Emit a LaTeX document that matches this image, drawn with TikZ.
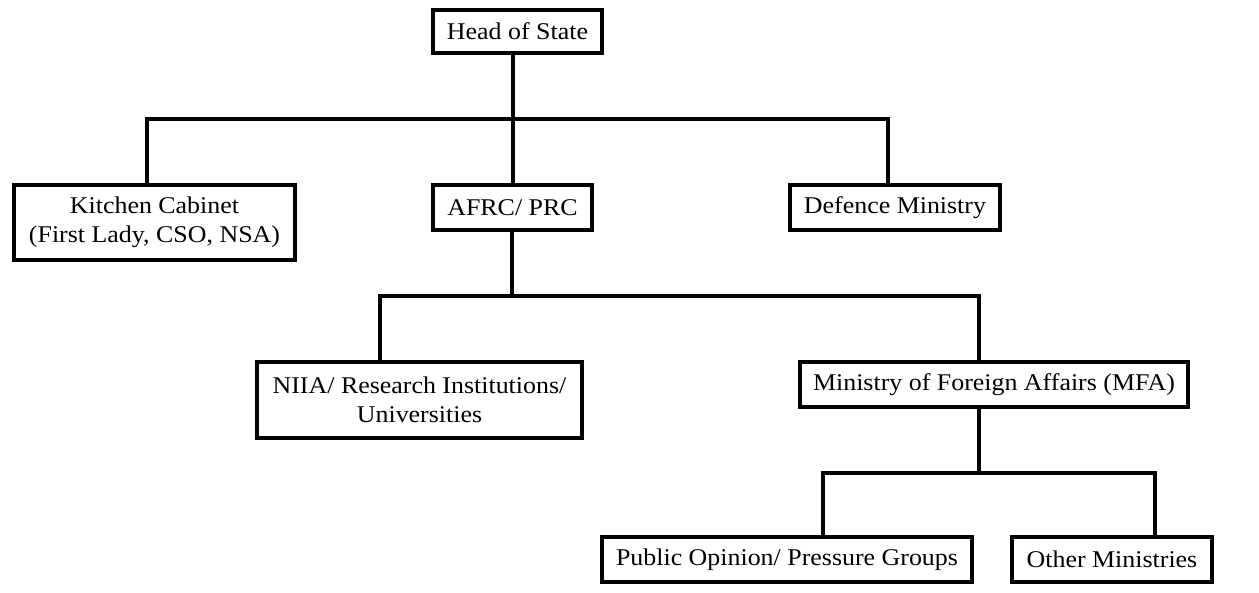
\documentclass[tikz,border=0pt]{standalone}
\usepackage{fontspec}
\setmainfont[FakeStretch=1.08]{Liberation Serif}
\begin{document}
\begin{tikzpicture}[x=1pt,y=-1pt,
  box/.style={draw,line width=3.5pt,rectangle,inner sep=0pt,align=center,
    font=\fontsize{24}{29}\selectfont},
  conn/.style={line width=3.5pt,line cap=rect}]
\useasboundingbox (0,0) rectangle (1259,592);
% nodes
\node[box,minimum width=169pt,minimum height=43pt] (head) at (517.5,31.5) {Head of State};
\node[box,minimum width=281pt,minimum height=75pt] (kitchen) at (154.5,222.5) {Kitchen Cabinet\\(First Lady, CSO, NSA)};
\node[box,minimum width=159pt,minimum height=45pt] (afrc) at (512.5,207.5) {AFRC/ PRC};
\node[box,minimum width=210pt,minimum height=45pt] (defence) at (895,207.5) {Defence Ministry};
\node[box,minimum width=325pt,minimum height=76pt] (niia) at (419.5,400) {NIIA/ Research Institutions/\\Universities};
\node[box,minimum width=388pt,minimum height=45pt] (mfa) at (994,384.5) {Ministry of Foreign Affairs (MFA)};
\node[box,minimum width=370pt,minimum height=45pt] (public) at (787,559.5) {Public Opinion/ Pressure Groups};
\node[box,minimum width=200pt,minimum height=45pt] (other) at (1112,559.5) {Other Ministries};
% junction points
\coordinate (j1) at (513,119);
\coordinate (j1l) at (147,119);
\coordinate (j1r) at (888,119);
\coordinate (j2) at (512,296);
\coordinate (j2l) at (380,296);
\coordinate (j2r) at (979,296);
\coordinate (j3) at (979,473);
\coordinate (j3l) at (823,473);
\coordinate (j3r) at (1155,473);
% connectors
\draw[conn] (head.south -| j1) -- (j1);
\draw[conn] (kitchen.north -| j1l) -- (j1l) -- (j1r) -- (defence.north -| j1r);
\draw[conn] (j1) -- (afrc.north -| j1);
\draw[conn] (afrc.south -| j2) -- (j2);
\draw[conn] (niia.north -| j2l) -- (j2l) -- (j2r) -- (mfa.north -| j2r);
\draw[conn] (mfa.south -| j3) -- (j3);
\draw[conn] (public.north -| j3l) -- (j3l) -- (j3r) -- (other.north -| j3r);
\end{tikzpicture}
\end{document}
